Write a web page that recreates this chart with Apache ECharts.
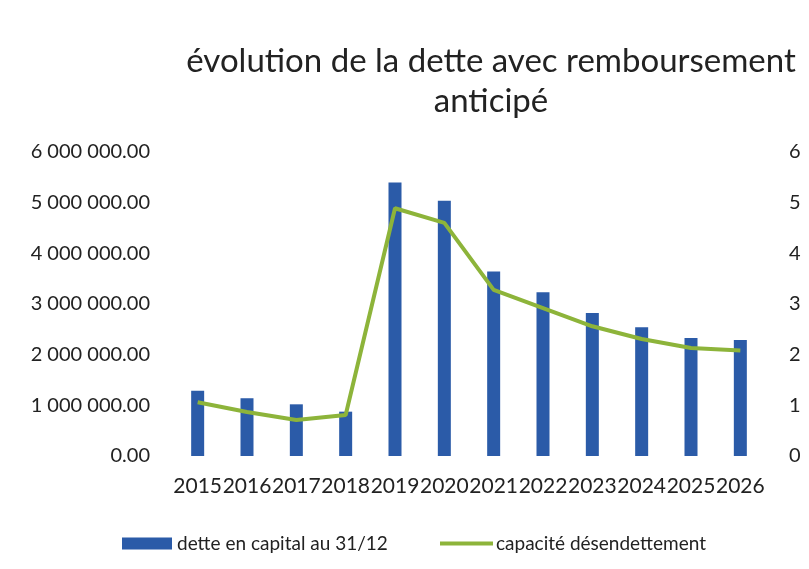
<!DOCTYPE html>
<html><head><meta charset="utf-8">
<script src="https://cdn.jsdelivr.net/npm/echarts@6/dist/echarts.min.js"></script>
<style>html,body{margin:0;padding:0;background:#fff}#c{width:809px;height:569px}</style>
</head><body><div id="c"></div>
<script>
const categories = ['2015','2016','2017','2018','2019','2020','2021','2022','2023','2024','2025','2026'];
const detteCapital = [1290000, 1140000, 1020000, 875000, 5400000, 5040000, 3640000, 3230000, 2820000, 2540000, 2330000, 2290000];
const capaciteDesendettement = [1.06, 0.87, 0.71, 0.81, 4.89, 4.60, 3.28, 2.92, 2.56, 2.31, 2.13, 2.08];
const titleText = 'évolution de la dette avec remboursement\nanticipé';
const seriesNames = ['dette en capital au 31/12', 'capacité désendettement'];

const FONT = 'Lato';
const TXT = '#222222';
const BLUE = '#2B5BA8';
const GREEN = '#8DB43A';
function fmtMoney(v){
  const s = Math.round(v).toString().replace(/\B(?=(\d{3})+(?!\d))/g, ' ');
  return s + '.00';
}
const chart = echarts.init(document.getElementById('c'));
chart.setOption({
  backgroundColor: '#ffffff',
  animation: false,
  title: {
    text: titleText, left: 486, top: 36, textAlign: 'center',
    textStyle: {fontFamily: FONT, fontSize: 33, fontWeight: 'normal', color: TXT, lineHeight: 40}
  },
  legend: [
    {data: [{name: seriesNames[0], icon: 'rect'}], left: 117, top: 529, itemWidth: 50, itemHeight: 12, itemGap: 0,
     textStyle: {fontFamily: FONT, fontSize: 19, color: TXT, padding: [0,0,0,0]}},
    {data: [{name: seriesNames[1], icon: 'rect', itemStyle: {color: GREEN}}], left: 435, top: 529, itemWidth: 53, itemHeight: 4, itemGap: 0,
     textStyle: {fontFamily: FONT, fontSize: 19, color: TXT, padding: [0,0,0,-2]}}
  ],
  grid: {left: 173, right: 44, top: 152, bottom: 113, containLabel: false},
  xAxis: {
    type: 'category', data: categories,
    axisLine: {show: false}, axisTick: {show: false},
    axisLabel: {interval: 0, fontFamily: FONT, fontSize: 21, color: TXT, margin: 20}
  },
  yAxis: [
    {type: 'value', min: 0, max: 6000000, interval: 1000000,
     splitLine: {show: false}, axisLine: {show: false}, axisTick: {show: false},
     axisLabel: {formatter: fmtMoney, fontFamily: FONT, fontSize: 20, color: TXT, margin: 23}},
    {type: 'value', min: 0, max: 6, interval: 1,
     splitLine: {show: false}, axisLine: {show: false}, axisTick: {show: false},
     axisLabel: {fontFamily: FONT, fontSize: 20, color: TXT, margin: 24}}
  ],
  series: [
    {name: seriesNames[0], type: 'bar', data: detteCapital, yAxisIndex: 0,
     barWidth: 13, itemStyle: {color: BLUE}},
    {name: seriesNames[1], type: 'line', data: capaciteDesendettement, yAxisIndex: 1,
     symbol: 'none', lineStyle: {color: GREEN, width: 4}, itemStyle: {color: GREEN}}
  ]
});
</script></body></html>
